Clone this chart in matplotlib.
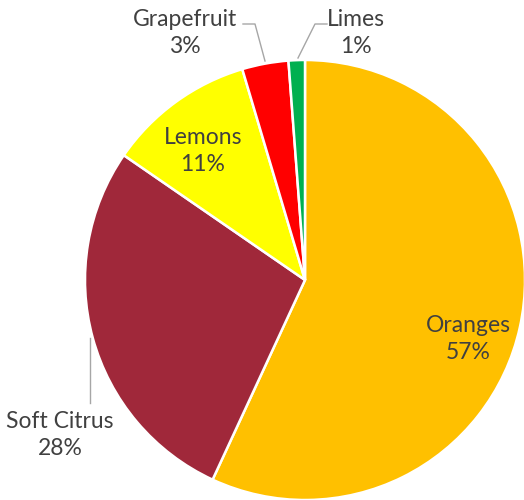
import matplotlib
matplotlib.use("Agg")
import matplotlib.pyplot as plt

# data (shares in %, labels rounded)
fruits = ["Oranges", "Soft Citrus", "Lemons", "Grapefruit", "Limes"]
shares = [56.9, 27.7, 10.8, 3.4, 1.2]
colors = ["#FFC000", "#A0283A", "#FFFF00", "#FF0000", "#00B050"]

plt.rcParams["font.family"] = ["Lato", "DejaVu Sans"]

fig = plt.figure(figsize=(5.24, 5.0), dpi=100)
ax = fig.add_axes([0, 0, 1, 1])

# pie in pixel units, y measured from bottom
cx, cy, r = 305, 220, 220
ax.pie(shares, colors=colors, startangle=90, counterclock=False,
       center=(cx, cy), radius=r, frame=True,
       wedgeprops=dict(edgecolor="white", linewidth=1.8))
ax.set_xlim(0, 524)
ax.set_ylim(0, 500)
ax.set_aspect("auto")
ax.axis("off")

txt = dict(fontsize=16.5, color="#404040", ha="center", va="center",
           linespacing=1.4)
label_pos = [(468, 161), (60, 65), (203, 349), (185, 467), (356, 467)]
for name, v, (x, y) in zip(fruits, shares, label_pos):
    ax.text(x, y, f"{name}\n{v:.0f}%", **txt)

# leader lines
lc = dict(color="#A6A6A6", linewidth=1.0)
ax.plot([243, 255, 265], [476, 476, 439], **lc)
ax.plot([327, 315, 298], [476, 476, 442], **lc)
ax.plot([90, 90], [162, 97], **lc)

fig.savefig("out.png", dpi=100)
